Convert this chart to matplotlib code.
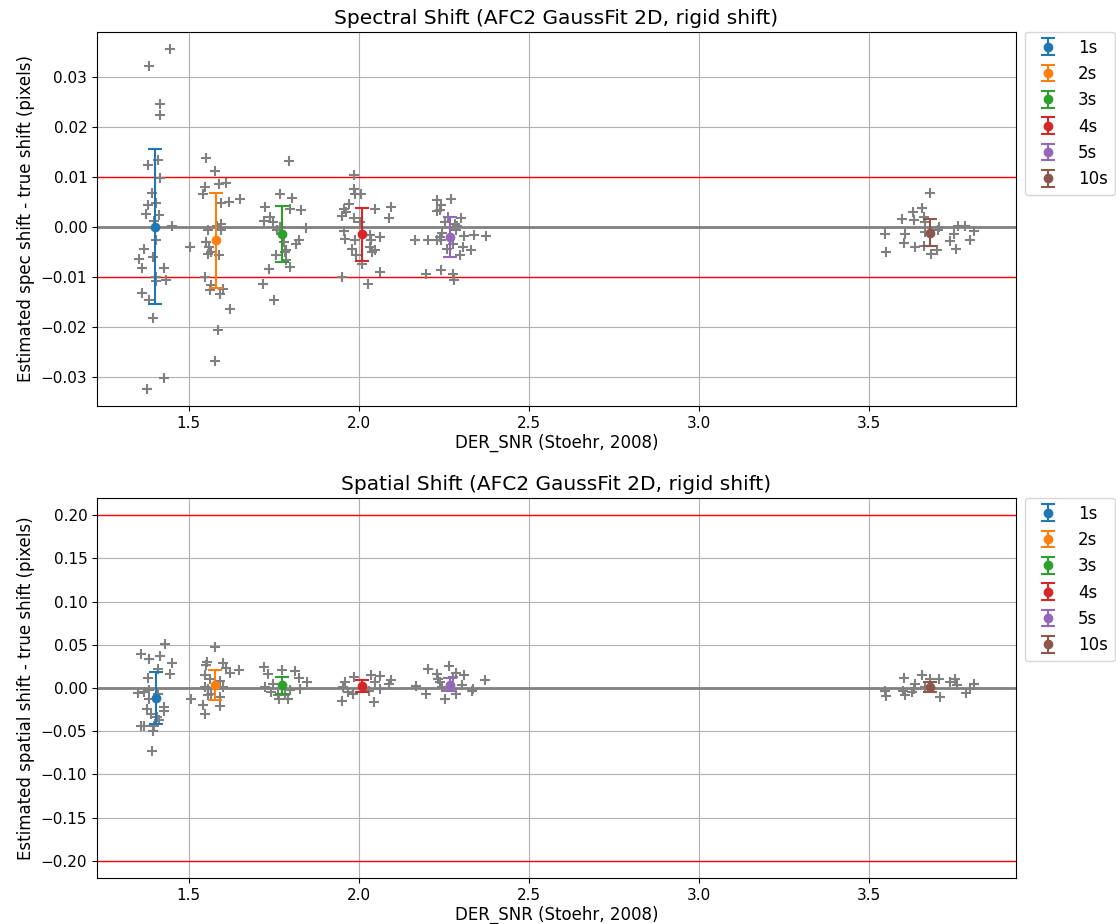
import numpy as np
import matplotlib
matplotlib.use('Agg')
import matplotlib.pyplot as plt

labels = ['1s', '2s', '3s', '4s', '5s', '10s']

# Per-sample values, spectral shift (top panel)
spec_snr = {
    '1s': [1.446, 1.385, 1.417, 1.417, 1.380, 1.410, 1.415, 1.392, 1.380, 1.403, 1.376, 1.413, 1.452,
           1.405, 1.369, 1.354, 1.363, 1.427, 1.405, 1.434, 1.405, 1.363, 1.385, 1.395, 1.427, 1.379,
           1.505, 1.400, 1.395],
    '2s': [1.550, 1.579, 1.547, 1.542, 1.589, 1.609, 1.596, 1.618, 1.650, 1.557, 1.596, 1.594, 1.552,
           1.557, 1.567, 1.589, 1.547, 1.567, 1.562, 1.591, 1.601, 1.623, 1.586, 1.579, 1.585, 1.560],
    '3s': [1.795, 1.770, 1.805, 1.726, 1.797, 1.829, 1.738, 1.721, 1.748, 1.846, 1.760, 1.824, 1.815,
           1.787, 1.782, 1.758, 1.787, 1.797, 1.735, 1.719, 1.750, 1.770, 1.780],
    '4s': [1.985, 1.985, 1.990, 2.008, 1.971, 1.956, 1.964, 2.047, 2.096, 2.089, 1.951, 1.985, 1.956,
           1.959, 1.988, 2.032, 2.037, 2.062, 1.980, 2.032, 2.040, 1.993, 2.047, 2.011, 2.062, 1.951,
           2.027, 2.005],
    '5s': [2.229, 2.243, 2.270, 2.230, 2.238, 2.263, 2.299, 2.253, 2.282, 2.289, 2.285, 2.246, 2.238,
           2.165, 2.204, 2.229, 2.243, 2.310, 2.338, 2.373, 2.276, 2.258, 2.307, 2.331, 2.297, 2.197,
           2.243, 2.277, 2.279],
    '10s': [3.677, 3.655, 3.627, 3.630, 3.596, 3.660, 3.665, 3.704, 3.701, 3.545, 3.606, 3.665, 3.760,
            3.782, 3.807, 3.748, 3.601, 3.736, 3.795, 3.635, 3.660, 3.699, 3.681, 3.756, 3.550],
}
spec_shift = {
    '1s': [0.0357, 0.0322, 0.0247, 0.0225, 0.0125, 0.0134, 0.0099, 0.0069, 0.0044, 0.0049, 0.0027,
           0.0025, 0.0003, -0.0026, -0.0043, -0.0063, -0.0081, -0.0081, -0.0099, -0.0105, -0.0107,
           -0.0131, -0.0145, -0.0181, -0.0301, -0.0324, -0.0039, 0.0012, -0.0060],
    '2s': [0.0139, 0.0112, 0.0081, 0.0067, 0.0087, 0.0089, 0.0049, 0.0051, 0.0056, -0.0005, 0.0007,
           -0.0006, -0.0029, -0.0053, -0.0049, -0.0056, -0.0099, -0.0116, -0.0126, -0.0133, -0.0123,
           -0.0163, -0.0205, -0.0268, 0.0002, -0.0040],
    '3s': [0.0133, 0.0067, 0.0059, 0.0041, 0.0037, 0.0034, 0.0021, 0.0013, 0.0011, -0.0001, -0.0005,
           -0.0025, -0.0034, -0.0045, -0.0049, -0.0056, -0.0066, -0.0079, -0.0083, -0.0113, -0.0145,
           0.0001, -0.0030],
    '4s': [0.0104, 0.0077, 0.0067, 0.0067, 0.0046, 0.0037, 0.0031, 0.0037, 0.0041, 0.0019, 0.0022,
           0.0019, -0.0007, -0.0023, -0.0026, -0.0016, -0.0026, -0.0019, -0.0043, -0.0039, -0.0049,
           -0.0056, -0.0046, -0.0073, -0.0089, -0.0099, -0.0113, 0.0010],
    '5s': [0.0054, 0.0044, 0.0056, 0.0033, 0.0035, 0.0021, 0.0019, 0.0011, 0.0007, 0.0003, -0.0006,
           -0.0011, -0.0019, -0.0026, -0.0026, -0.0025, -0.0026, -0.0018, -0.0016, -0.0018, -0.0033,
           -0.0043, -0.0039, -0.0045, -0.0056, -0.0094, -0.0086, -0.0093, -0.0106],
    '10s': [0.0069, 0.0039, 0.0031, 0.0014, 0.0016, 0.0021, 0.0011, 0.0001, -0.0006, -0.0013, -0.0014,
            -0.0009, 0.0002, 0.0002, -0.0007, -0.0013, -0.0031, -0.0027, -0.0025, -0.0039, -0.0038,
            -0.0046, -0.0053, -0.0044, -0.0049],
}

# Per-sample values, spatial shift (bottom panel)
spat_snr = {
    '1s': [1.432, 1.361, 1.385, 1.417, 1.451, 1.410, 1.446, 1.380, 1.351, 1.370, 1.383, 1.410, 1.385,
           1.379, 1.427, 1.429, 1.390, 1.407, 1.413, 1.361, 1.368, 1.400, 1.395, 1.392, 1.506],
    '2s': [1.579, 1.554, 1.550, 1.601, 1.609, 1.621, 1.648, 1.547, 1.562, 1.591, 1.601, 1.547, 1.557,
           1.557, 1.591, 1.542, 1.591, 1.547, 1.567],
    '3s': [1.721, 1.733, 1.776, 1.812, 1.824, 1.848, 1.724, 1.748, 1.743, 1.763, 1.797, 1.826, 1.766,
           1.792, 1.782],
    '4s': [1.952, 1.959, 1.985, 1.954, 1.969, 2.035, 2.062, 2.047, 2.096, 2.089, 2.062, 2.044, 1.983,
           2.030],
    '5s': [2.168, 2.204, 2.266, 2.230, 2.285, 2.310, 2.233, 2.238, 2.277, 2.371, 2.246, 2.302, 2.336,
           2.334, 2.197, 2.287, 2.253],
    '10s': [3.601, 3.655, 3.679, 3.704, 3.635, 3.630, 3.738, 3.752, 3.757, 3.807, 3.797, 3.785, 3.547,
            3.550, 3.599, 3.606, 3.626, 3.707, 3.665],
}
spat_shift = {
    '1s': [0.0511, 0.0394, 0.0331, 0.0371, 0.0284, 0.0214, 0.0160, 0.0117, -0.0055, -0.0047, -0.0027,
           -0.0067, -0.0125, -0.0249, -0.0222, -0.0261, -0.0300, -0.0339, -0.0367, -0.0437, -0.0444,
           -0.0437, -0.0495, -0.0729, -0.0133],
    '2s': [0.0472, 0.0296, 0.0265, 0.0284, 0.0226, 0.0179, 0.0207, 0.0149, 0.0109, 0.0078, 0.0012,
           0.0012, -0.0008, -0.0085, -0.0105, -0.0202, -0.0211, -0.0300, -0.0067],
    '3s': [0.0246, 0.0156, 0.0207, 0.0195, 0.0117, 0.0070, 0.0012, 0.0050, -0.0047, -0.0078, -0.0027,
           -0.0008, -0.0133, -0.0133, -0.0086],
    '4s': [-0.0156, 0.0070, 0.0129, 0.0012, -0.0047, 0.0149, 0.0137, 0.0070, 0.0090, 0.0050, -0.0008,
           -0.0164, -0.0067, -0.0039],
    '5s': [0.0023, 0.0214, 0.0257, 0.0156, 0.0179, 0.0149, 0.0109, 0.0070, 0.0129, 0.0090, 0.0012,
           0.0032, -0.0008, -0.0039, -0.0067, -0.0067, -0.0125],
    '10s': [0.0117, 0.0149, 0.0102, 0.0102, 0.0050, -0.0008, 0.0070, 0.0109, 0.0032, 0.0050, -0.0008,
            -0.0055, -0.0039, -0.0094, -0.0039, -0.0086, -0.0047, -0.0105, 0.0012],
}

# Group means and standard deviations
spec_mean_snr = [1.402, 1.581, 1.776, 2.011, 2.268, 3.679]
spec_mean = [0.0001, -0.0026, -0.0014, -0.0014, -0.0019, -0.0011]
spec_std = [0.0155, 0.0095, 0.0056, 0.0053, 0.0040, 0.0027]

spat_mean_snr = [1.403, 1.579, 1.774, 2.011, 2.268, 3.679]
spat_mean = [-0.0117, 0.0032, 0.0032, 0.0020, 0.0039, 0.0012]
spat_std = [0.0300, 0.0175, 0.0097, 0.0072, 0.0078, 0.0055]

plt.rcParams['font.size'] = 11

fig = plt.figure(figsize=(11.16, 9.24), dpi=100)
ax1 = fig.add_axes([0.087, 0.5606, 0.823, 0.4048])
ax2 = fig.add_axes([0.087, 0.0498, 0.823, 0.4113])

panels = [
    (ax1, spec_snr, spec_shift, spec_mean_snr, spec_mean, spec_std, 0.01,
     'Spectral Shift (AFC2 GaussFit 2D, rigid shift)', 'Estimated spec shift - true shift (pixels)'),
    (ax2, spat_snr, spat_shift, spat_mean_snr, spat_mean, spat_std, 0.2,
     'Spatial Shift (AFC2 GaussFit 2D, rigid shift)', 'Estimated spatial shift - true shift (pixels)'),
]

for ax, snr, shift, msnr, mval, mstd, lim, title, ylabel in panels:
    ax.axhline(0, color='gray', lw=2, zorder=1)
    ax.axhline(lim, color='red', lw=1, zorder=1)
    ax.axhline(-lim, color='red', lw=1, zorder=1)
    for lab in labels:
        ax.plot(snr[lab], shift[lab], '+', color='gray', ms=6.5, mew=1.5, zorder=2)
    for i, lab in enumerate(labels):
        ax.errorbar(msnr[i], mval[i], yerr=mstd[i], fmt='o', color='C%d' % i,
                    capsize=5, elinewidth=1.5, capthick=1.5, ms=6, label=lab, zorder=3)
    ax.set_title(title, fontsize=14.5)
    ax.set_xlabel('DER_SNR (Stoehr, 2008)', fontsize=12, labelpad=2)
    ax.set_ylabel(ylabel, fontsize=12)
    ax.grid(True)
    ax.set_axisbelow(True)
    ax.legend(loc='upper left', bbox_to_anchor=(1.01, 1.0), borderaxespad=0, fontsize=12)

ax2.set_ylim(-0.22, 0.22)
ax2.set_xlim(ax1.get_xlim())

fig.savefig('out.png', dpi=100)
